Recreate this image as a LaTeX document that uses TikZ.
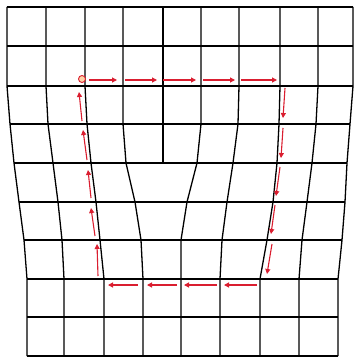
\documentclass[tikz,border=0pt]{standalone}
\usepackage{tikz}
\usetikzlibrary{arrows.meta}
\definecolor{pathred}{RGB}{218,30,48}
\tikzset{
  gridS/.style ={black, line width=1.3pt, line join=round},
  pathS/.style ={pathred, line width=1.1pt, -{Triangle[length=5pt,width=5pt]}},
  startS/.style={circle, draw=pathred, fill=orange!35, line width=0.9pt, minimum size=7pt, inner sep=0pt},
}

\begin{document}
\begin{tikzpicture}[x=1pt, y=-1pt]
  \useasboundingbox (0,0) rectangle (354,358);
  \foreach \t/\a/\b/\c/\d/\u in {7/10/14/19/24/27, 46/48/53/58/62/64, 85/87/91/96/100/104,
      123/123/126/135/141/143, 201/201/197/187/181/181, 239/238/233/227/222/220,
      280/279/277/273/267/260, 318/316/312/307/302/299, 353/350/347/345/342/338}
    \draw[gridS] (\t,7) -- (\t,86) -- (\a,124) -- (\b,163) -- (\c,202) -- (\d,240) -- (\u,279) -- (\u,356);
  \draw[gridS] (163,7) -- (163,163);
  \foreach \y/\l/\r in {7/7/353, 46/7/353, 86/7/353, 124/10/350, 163/14/347,
      202/19/345, 240/24/342, 279/27/338, 317/27/338, 356/27/338}
    \draw[gridS] (\l,\y) -- (\r,\y);
  \node[startS] (start) at (82,79) {};
  \foreach \a/\b in {89/117, 125/157, 163/196, 203/235, 241/277}
    \draw[pathS] (\a,80) -- (\b,80);
  \foreach \xa/\ya/\xb/\yb in {285/88/283/118, 283/128/281/158, 280/167/276/196,
      275/205/271/234, 272/244/267/274}
    \draw[pathS] (\xa,\ya) -- (\xb,\yb);
  \foreach \a/\b in {257/224, 217/184, 177/147, 138/108}
    \draw[pathS] (\a,285) -- (\b,285);
  \foreach \xa/\ya/\xb/\yb in {98/276/97/244, 95/236/91/208, 91/198/88/170,
      87/160/83/130, 82/121/79/92}
    \draw[pathS] (\xa,\ya) -- (\xb,\yb);
\end{tikzpicture}
\end{document}
